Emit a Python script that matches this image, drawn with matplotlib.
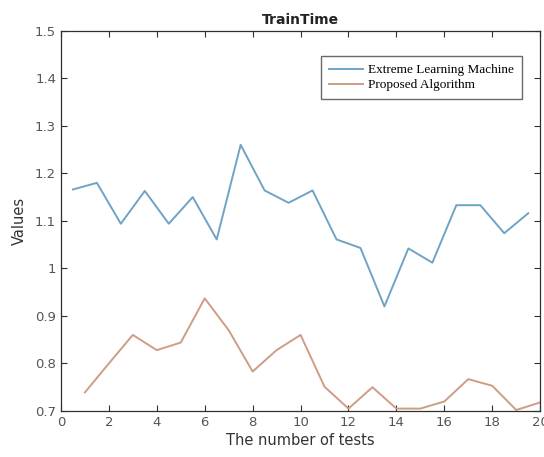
import matplotlib
matplotlib.use("Agg")
import matplotlib.pyplot as plt

# Data
x_elm = [0.5, 1.5, 2.5, 3.5, 4.5, 5.5, 6.5, 7.5, 8.5, 9.5,
         10.5, 11.5, 12.5, 13.5, 14.5, 15.5, 16.5, 17.5, 18.5, 19.5]
elm = [1.166, 1.180, 1.094, 1.163, 1.094, 1.150, 1.061, 1.260, 1.164, 1.138,
       1.164, 1.061, 1.043, 0.920, 1.042, 1.012, 1.133, 1.133, 1.074, 1.116]

x_prop = list(range(1, 21))
prop = [0.739, 0.800, 0.860, 0.828, 0.844, 0.937, 0.870, 0.783, 0.828, 0.860,
        0.751, 0.705, 0.750, 0.705, 0.705, 0.720, 0.767, 0.753, 0.702, 0.718]

labels = ["Extreme Learning Machine", "Proposed Algorithm"]
xticks = list(range(0, 21, 2))
yticks = [0.7, 0.8, 0.9, 1.0, 1.1, 1.2, 1.3, 1.4, 1.5]
ytick_labels = ["0.7", "0.8", "0.9", "1", "1.1", "1.2", "1.3", "1.4", "1.5"]

fig = plt.figure(figsize=(5.44, 4.57), dpi=100)
ax = fig.add_axes([0.112, 0.1007, 0.881, 0.832])

ax.plot(x_elm, elm, color="#6fa3c6", lw=1.4, label=labels[0])
ax.plot(x_prop, prop, color="#cf9c84", lw=1.4, label=labels[1])

ax.set_xlim(0, 20)
ax.set_ylim(0.7, 1.5)
ax.set_xticks(xticks)
ax.set_yticks(yticks)
ax.set_yticklabels(ytick_labels)

dark = "#303030"
for s in ax.spines.values():
    s.set_color(dark)
    s.set_linewidth(0.9)
ax.tick_params(direction="in", top=True, right=True, length=4, width=0.8,
               colors=dark, labelsize=9.5, labelcolor="#555555")

ax.set_title("TrainTime", fontsize=10, fontweight="bold", color="#222222", pad=5)
ax.set_xlabel("The number of tests", fontsize=10.5, color="#333333", labelpad=3)
ax.set_ylabel("Values", fontsize=10.5, color="#333333", labelpad=6)

leg = ax.legend(loc="upper right", bbox_to_anchor=(0.962, 0.933),
                prop={"family": "Liberation Serif", "size": 9.5},
                frameon=True, fancybox=False, handlelength=2.6,
                borderpad=0.6, labelspacing=0.2, handletextpad=0.4,
                borderaxespad=0)
leg.get_frame().set_edgecolor("#444444")
leg.get_frame().set_linewidth(1.0)

fig.savefig("out.png", dpi=100)
